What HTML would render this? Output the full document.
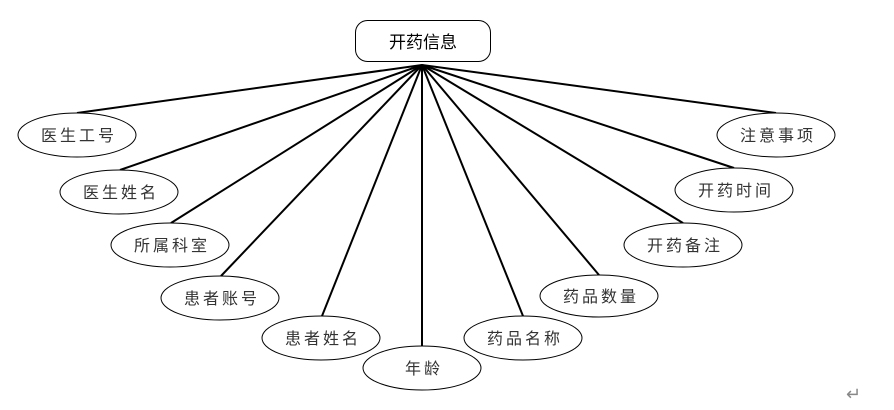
<!DOCTYPE html>
<html><head><meta charset="utf-8"><style>
html,body{margin:0;padding:0;background:#fff;}
svg{display:block;}
text{font-family:"Liberation Sans","Noto Sans CJK SC",sans-serif;}
</style></head><body>
<svg width="894" height="410" xmlns="http://www.w3.org/2000/svg">
<g stroke="#000" stroke-width="2" fill="none">
<line x1="422" y1="65" x2="77" y2="113"/>
<line x1="422" y1="65" x2="120" y2="170"/>
<line x1="422" y1="65" x2="171" y2="223"/>
<line x1="422" y1="65" x2="221" y2="276"/>
<line x1="422" y1="65" x2="322" y2="316"/>
<line x1="422" y1="65" x2="422" y2="347"/>
<line x1="422" y1="65" x2="523" y2="316"/>
<line x1="422" y1="65" x2="599" y2="275"/>
<line x1="422" y1="65" x2="683" y2="223"/>
<line x1="422" y1="65" x2="734" y2="168"/>
<line x1="422" y1="65" x2="776" y2="113"/>
</g>
<rect x="355.5" y="20.5" width="135" height="41" rx="12" fill="#fff" stroke="#000" stroke-width="1"/>
<text x="423" y="48" font-size="17" text-anchor="middle" fill="#000">开药信息</text>
<g fill="#fff" stroke="#000" stroke-width="1">
<ellipse cx="77" cy="135" rx="59" ry="22"/>
<ellipse cx="119" cy="192" rx="59" ry="22"/>
<ellipse cx="170" cy="245" rx="59" ry="22"/>
<ellipse cx="220" cy="298" rx="59" ry="22"/>
<ellipse cx="321" cy="338" rx="59" ry="22"/>
<ellipse cx="422" cy="368" rx="59" ry="22"/>
<ellipse cx="523" cy="338" rx="59" ry="22"/>
<ellipse cx="599" cy="296" rx="59" ry="21"/>
<ellipse cx="683" cy="245" rx="59" ry="22"/>
<ellipse cx="734" cy="190" rx="59" ry="22"/>
<ellipse cx="776" cy="135" rx="59" ry="22"/>
</g>
<g font-size="16" fill="#333" text-anchor="middle" letter-spacing="3">
<text x="79" y="141">医生工号</text>
<text x="121" y="198">医生姓名</text>
<text x="172" y="251">所属科室</text>
<text x="222" y="304">患者账号</text>
<text x="323" y="344">患者姓名</text>
<text x="424" y="374">年龄</text>
<text x="525" y="344">药品名称</text>
<text x="601" y="302">药品数量</text>
<text x="685" y="251">开药备注</text>
<text x="736" y="196">开药时间</text>
<text x="778" y="141">注意事项</text>
</g>
<text x="846" y="400" font-size="18" fill="#888">↵</text>
</svg>
</body></html>
